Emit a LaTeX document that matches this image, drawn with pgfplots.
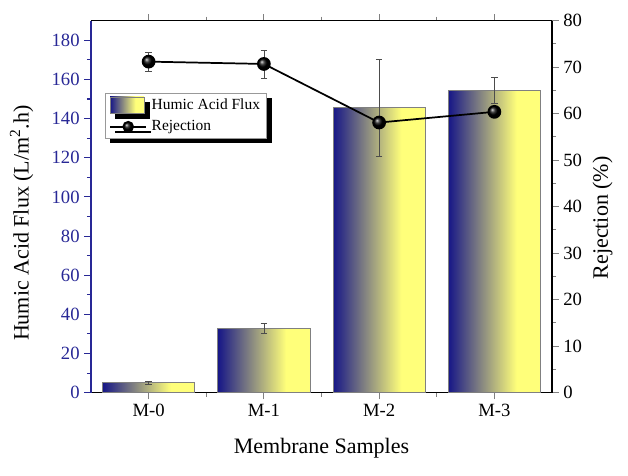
\documentclass[border=0pt]{standalone}
\usepackage{fontspec}
\setmainfont{Liberation Serif}
\usepackage{pgfplots}
\pgfplotsset{compat=1.18}
\usetikzlibrary{shadows}
\definecolor{axisblue}{RGB}{40,40,150}
\definecolor{barnavy}{RGB}{22,22,135}
\definecolor{baryellow}{RGB}{255,255,122}
\pgfdeclarehorizontalshading{barshade}{100bp}{color(0bp)=(barnavy); color(25bp)=(barnavy); color(62bp)=(baryellow); color(100bp)=(baryellow)}
\pgfplotsset{
  rejlegend/.style={legend image code/.code={\draw[mark repeat=2, mark phase=2, ##1, mark size=3.7pt] plot coordinates {(0pt,0pt) (13.5pt,0pt) (27pt,0pt)};}},
  barlegend/.style={legend image code/.code={\draw[draw=gray, line width=0.4pt, shade, shading=barshade] (0pt,-6pt) rectangle (25.5pt,6pt);}},
  fluxbar/.style={ybar, bar width=0.8, bar shift=0pt, draw=gray, line width=0.5pt, shade, shading=barshade, forget plot},
  errstyle/.style={draw=none, mark=none, forget plot,
    error bars/.cd, y dir=both, y explicit,
    error bar style={draw=black!70, line width=0.5pt},
    error mark options={draw=black!70, rotate=90, mark size=2.5pt, line width=0.5pt}},
  common/.style={scale only axis, width=345.75pt, height=279pt, at={(0,0)}, anchor=south west,
    xmin=-0.5, xmax=3.5, tick align=outside, major tick length=5pt, minor tick length=3pt,
    /pgf/number format/assume math mode=true,
    tick label style={font=\fontsize{14}{16}\selectfont},
    label style={font=\fontsize{16.5}{19}\selectfont},
    axis line style={line width=0.8pt},
    every tick/.append style={line width=0.8pt}}
}
\begin{document}
\begin{tikzpicture}
\begin{axis}[common, ymin=0, ymax=190,
  axis x line*=box, axis y line*=left,
  xtick={0,1,2,3}, xticklabels={M-0,M-1,M-2,M-3}, minor xtick={0.5,1.5,2.5},
  ytick={0,20,...,180}, minor ytick={10,30,...,170},
  y axis line style={draw=axisblue}, y tick style={draw=axisblue}, yticklabel style={text=axisblue},
  xlabel={Membrane Samples},
  ylabel={Humic Acid Flux (L/m\textsuperscript{2}.h)},
  xlabel style={at={([yshift=-42pt]axis description cs:0.5,0)}, anchor=center},
  ylabel style={at={([xshift=-52pt]axis description cs:0,0.456)}, anchor=center}]
\addplot[fluxbar] coordinates {(0,5.1)};
\addplot[fluxbar] coordinates {(1,32.7)};
\addplot[fluxbar] coordinates {(2,145.7)};
\addplot[fluxbar] coordinates {(3,154.5)};
\addplot[errstyle]
  coordinates {(0,5.1) +- (0,0.8) (1,32.7) +- (0,2.6) (2,145.7) +- (0,24.8) (3,154.5) +- (0,6.6)};
\end{axis}
\begin{axis}[common, ymin=0, ymax=80,
  axis x line=none, axis y line*=right,
  ytick={0,10,...,80}, minor ytick={5,15,...,75},
  ylabel={Rejection (\%)},
  ylabel style={at={([xshift=38pt]axis description cs:1,0.47)}, anchor=center},
  legend cell align=left,
  legend style={at={(0.0304,0.806)}, anchor=north west, draw=gray!80, fill=white, line width=0.5pt,
    font=\fontsize{11.6}{13}\selectfont, inner xsep=3pt, inner ysep=2pt, row sep=3pt, column sep=1.5pt,
    drop shadow={shadow xshift=3.8pt, shadow yshift=-3.8pt, fill=black, opacity=1}}]
\addlegendimage{barlegend}
\addlegendentry{Humic Acid Flux}
\addplot[errstyle] coordinates {(0,71.2) +- (0,2) (1,70.7) +- (0,3)};
\addplot[black, line width=1.3pt, mark=ball, mark size=4.5pt, mark options={ball color=black}, rejlegend]
  coordinates {(0,71.2) (1,70.7) (2,58.1) (3,60.4)};
\addlegendentry{Rejection}
\end{axis}
\path[use as bounding box] (-68.25pt,-61.725pt) rectangle (402.75pt,294.525pt);
\end{tikzpicture}
\end{document}
